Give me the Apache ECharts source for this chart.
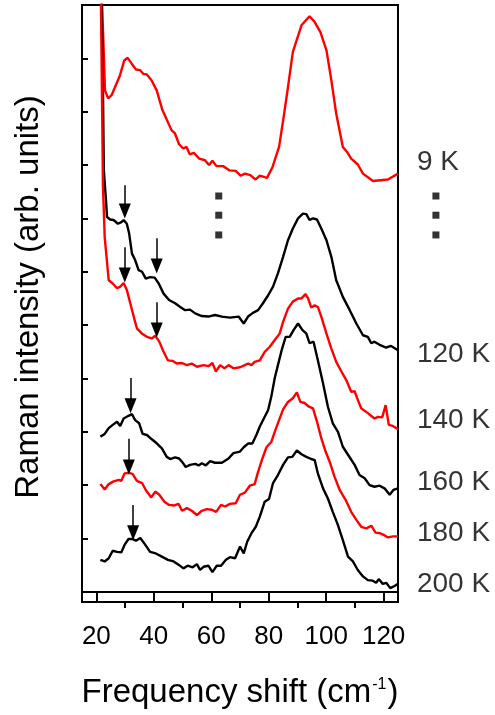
<!DOCTYPE html>
<html><head><meta charset="utf-8">
<script src="https://cdn.jsdelivr.net/npm/echarts@6/dist/echarts.min.js"></script>
<style>html,body{margin:0;padding:0;background:#fff}#c{width:495px;height:715px}</style>
</head><body><div id="c"></div>
<script>
const xMajorTicks = [20, 40, 60, 80, 100, 120];
const xMinorTicks = [30, 50, 70, 90, 110];
const yTicks = [0, 1, 2, 3, 4, 5, 6, 7, 8, 9, 10];
const tempNames = ['9 K', '120 K', '140 K', '160 K', '180 K', '200 K'];
const tempLabelY = [8.06, 4.46, 3.22, 2.06, 1.10, 0.15];
const seriesColors = ['#ff0000', '#000000', '#ff0000', '#000000', '#ff0000', '#000000'];

const s9K = [[21.4,12],[23.0,9.40],[24.1,9.25],[25.3,9.31],[28.2,9.68],[29.7,9.96],[30.9,10.01],[32.3,9.90],[33.8,9.79],[35.2,9.78],[36.3,9.71],[37.5,9.70],[39.2,9.59],[41.0,9.40],[43.0,9.03],[44.6,8.84],[46.2,8.65],[47.3,8.60],[48.8,8.39],[50.2,8.31],[51.4,8.34],[52.5,8.20],[53.9,8.23],[55.8,8.12],[57.8,8.09],[59.2,8.00],[60.4,8.08],[61.8,7.98],[64.1,7.98],[66.4,7.90],[68.5,7.89],[70.2,7.80],[71.7,7.84],[73.6,7.81],[75.4,7.73],[76.9,7.80],[79.4,7.76],[81.3,7.96],[83.6,8.34],[85.2,8.90],[86.7,9.46],[88.4,10.12],[91.4,10.62],[94.2,10.79],[96.0,10.68],[98.0,10.49],[100.1,10.15],[101.8,9.59],[103.5,8.96],[105.8,8.34],[107.2,8.25],[108.7,8.12],[111.0,8.01],[112.8,7.84],[116.3,7.70],[121.5,7.73],[125.0,7.84]];

const s120K = [[21.5,12],[22.3,9.4],[22.6,7.9],[23.4,7.3],[23.7,7.03],[24.8,6.98],[26.0,6.97],[27.5,6.90],[28.7,6.93],[29.5,6.97],[30.6,6.90],[31.4,6.72],[32.4,6.34],[33.5,6.22],[34.7,6.03],[35.9,6.00],[37.2,5.87],[38.7,5.90],[40.3,5.89],[41.7,5.78],[43.4,5.59],[45.3,5.47],[47.4,5.41],[49.2,5.34],[50.9,5.28],[52.6,5.29],[54.4,5.22],[56.7,5.17],[59.0,5.16],[61.3,5.19],[63.7,5.16],[66.5,5.14],[69.5,5.16],[71.3,5.03],[72.8,5.16],[74.5,5.23],[76.3,5.28],[78.0,5.41],[79.8,5.56],[81.5,5.72],[83.2,5.97],[85.0,6.28],[86.7,6.59],[88.4,6.81],[90.2,7.00],[91.9,7.09],[93.1,7.08],[94.2,6.97],[95.4,7.00],[96.8,6.98],[98.3,6.81],[100.1,6.59],[101.8,6.28],[103.5,5.84],[105.8,5.53],[108.2,5.28],[110.5,5.03],[112.8,4.81],[114.5,4.78],[115.7,4.66],[116.8,4.69],[118.6,4.63],[120.9,4.58],[122.6,4.61],[125.0,4.53]];

const s140K = [[21.4,12],[22.3,7.6],[22.9,6.65],[24.3,5.84],[25.7,5.78],[27.2,5.69],[28.3,5.72],[29.5,5.79],[30.6,5.66],[31.8,5.41],[33.0,5.16],[34.1,4.94],[35.9,4.84],[37.6,4.78],[39.3,4.75],[40.5,4.80],[41.9,4.69],[43.4,4.50],[44.9,4.34],[46.5,4.33],[48.0,4.28],[49.8,4.29],[51.5,4.25],[53.2,4.28],[55.0,4.22],[57.3,4.25],[59.0,4.23],[60.4,4.29],[61.6,4.13],[63.1,4.25],[64.6,4.19],[66.0,4.25],[67.7,4.19],[70.0,4.21],[71.7,4.25],[72.8,4.28],[74.0,4.25],[75.1,4.31],[76.9,4.34],[78.6,4.50],[80.3,4.59],[82.1,4.72],[83.8,4.84],[85.0,5.06],[86.7,5.31],[88.4,5.44],[90.2,5.50],[91.4,5.50],[92.8,5.58],[93.7,5.50],[94.8,5.33],[96.0,5.37],[97.1,5.34],[98.3,5.16],[100.1,4.84],[101.8,4.56],[103.5,4.31],[105.3,4.13],[107.0,3.97],[108.7,3.75],[109.9,3.76],[111.0,3.60],[112.2,3.44],[114.5,3.35],[116.8,3.25],[118.0,3.28],[119.5,3.27],[120.7,3.50],[121.8,3.13],[123.2,3.11],[125.0,3.05]];

const s160K = [[21.4,2.91],[22.9,2.96],[24.3,3.07],[25.7,3.13],[27.2,3.19],[28.3,3.11],[29.5,3.25],[31.2,3.30],[32.4,3.33],[33.5,3.22],[34.9,3.16],[36.1,2.96],[37.6,2.94],[39.3,2.86],[41.1,2.78],[42.8,2.69],[44.5,2.53],[45.7,2.49],[47.4,2.52],[48.8,2.50],[49.8,2.44],[51.1,2.34],[52.6,2.38],[54.4,2.40],[55.6,2.37],[56.7,2.41],[58.1,2.37],[59.6,2.45],[61.3,2.42],[63.7,2.42],[66.0,2.50],[67.7,2.60],[70.0,2.63],[71.3,2.71],[72.8,2.78],[74.3,2.78],[75.7,2.94],[76.9,3.10],[78.3,3.25],[79.8,3.41],[80.9,3.66],[82.1,4.01],[83.2,4.25],[84.5,4.53],[85.9,4.78],[87.3,4.78],[88.7,4.91],[90.2,5.03],[91.7,4.91],[93.1,4.84],[94.2,4.66],[95.6,4.69],[97.1,4.34],[98.9,3.91],[100.6,3.47],[102.3,3.16],[104.1,3.00],[105.8,2.72],[107.6,2.57],[109.9,2.38],[111.6,2.19],[113.4,2.13],[115.1,2.00],[116.8,1.97],[118.6,1.99],[120.3,1.94],[122.1,1.82],[123.4,1.91],[125.0,1.94]];

const s180K = [[21.4,2.02],[22.9,1.92],[24.3,2.02],[26.0,2.07],[27.8,2.10],[28.7,2.08],[29.8,2.22],[31.2,2.23],[32.6,2.21],[34.1,2.08],[35.9,2.04],[37.2,1.91],[39.1,1.77],[40.5,1.88],[41.9,1.82],[43.7,1.69],[45.3,1.63],[47.2,1.62],[48.6,1.65],[49.8,1.52],[51.5,1.57],[53.2,1.52],[55.0,1.44],[56.7,1.52],[58.4,1.55],[60.2,1.54],[61.7,1.50],[63.4,1.63],[64.8,1.60],[66.5,1.65],[68.5,1.66],[70.0,1.82],[71.7,1.86],[73.4,1.99],[75.1,2.02],[76.3,2.25],[77.8,2.50],[79.2,2.71],[80.9,2.81],[82.1,3.00],[83.6,3.22],[85.0,3.42],[86.7,3.56],[88.4,3.63],[89.8,3.74],[91.0,3.56],[92.5,3.54],[94.0,3.47],[95.4,3.44],[96.8,3.19],[98.3,2.88],[99.8,2.63],[101.2,2.44],[102.9,2.16],[104.7,1.91],[106.8,1.72],[108.7,1.50],[110.5,1.35],[112.2,1.22],[114.0,1.19],[115.7,1.24],[117.2,1.11],[118.6,1.10],[120.0,1.07],[121.5,1.02],[123.2,1.04],[125.0,1.04]];

const s200K = [[21.4,0.60],[22.9,0.57],[24.3,0.63],[25.7,0.77],[27.2,0.75],[28.7,0.74],[29.8,0.88],[31.2,0.99],[32.6,0.99],[33.8,0.96],[35.3,1.01],[36.8,0.90],[38.7,0.75],[40.7,0.72],[42.8,0.66],[44.9,0.60],[46.9,0.57],[48.6,0.51],[50.3,0.44],[51.8,0.49],[53.5,0.46],[55.0,0.52],[56.1,0.41],[57.3,0.47],[59.0,0.49],[60.4,0.37],[61.9,0.49],[63.4,0.49],[65.1,0.60],[66.5,0.65],[68.3,0.63],[70.0,0.85],[71.3,0.72],[72.5,0.94],[74.0,1.10],[75.5,1.22],[76.9,1.41],[78.6,1.69],[80.1,1.74],[81.5,2.04],[83.2,2.19],[85.0,2.38],[86.7,2.52],[88.2,2.53],[89.8,2.65],[91.4,2.58],[93.1,2.53],[94.8,2.49],[96.0,2.47],[97.1,2.22],[98.9,1.94],[100.6,1.75],[102.3,1.50],[104.1,1.25],[105.8,0.97],[107.6,0.66],[109.3,0.57],[111.0,0.41],[112.8,0.29],[114.5,0.22],[116.2,0.21],[117.4,0.17],[118.3,0.24],[119.7,0.15],[120.9,0.17],[122.3,0.07],[123.8,0.11],[125.0,0.15]];

const spectra = [s9K, s120K, s140K, s160K, s180K, s200K];

// arrows: [x, top, tip]
const arrows = [[29.9,7.62,7.14],[41.0,6.63,6.11],[29.9,6.46,5.94],[41.0,5.43,4.91],[31.9,4.01,3.49],[31.3,2.87,2.34],[32.8,1.63,1.11]];
// ellipsis dots
const dotX = [62.6, 138.2];
const dotY = [7.42, 7.06, 6.69];
const tempLabelX = 131.4;

const FONT = '"Liberation Sans", Arial, sans-serif';
const chart = echarts.init(document.getElementById('c'), null, {renderer: 'canvas'});

const series = spectra.map((d, i) => ({
  type: 'line', name: tempNames[i], data: d, showSymbol: false, symbol: 'none',
  lineStyle: {color: seriesColors[i], width: 2.4}, itemStyle: {color: seriesColors[i]},
  clip: true, z: 3
}));
series.push({
  type: 'line', data: [], showSymbol: false,
  markLine: {
    silent: true, animation: false, symbol: ['none', 'triangle'], symbolSize: [12, 15],
    label: {show: false},
    lineStyle: {color: '#000', width: 1.5, type: 'solid'},
    emphasis: {disabled: true},
    data: arrows.map(a => [{coord: [a[0], a[1]]}, {coord: [a[0], a[2]]}])
  }
});
const dots = [];
dotX.forEach(x => dotY.forEach(y => dots.push([x, y])));
series.push({
  type: 'scatter', data: dots, symbol: 'rect', symbolSize: 7, clip: false,
  itemStyle: {color: '#000'}, silent: true
});
series.push({
  type: 'scatter', clip: false, symbolSize: 1, silent: true,
  itemStyle: {color: 'rgba(0,0,0,0)'},
  data: tempNames.map((n, i) => ({name: n, value: [tempLabelX, tempLabelY[i]]})),
  label: {show: true, position: 'right', distance: 0, formatter: '{b}', color: '#000', fontSize: 28, fontFamily: FONT}
});

chart.setOption({
  animation: false,
  backgroundColor: '#fff',
  grid: {left: 82, right: 97, top: 5, bottom: 113, show: true, borderColor: '#000', borderWidth: 2, backgroundColor: 'transparent'},
  xAxis: [{
    type: 'value', min: 15, max: 125, position: 'bottom',
    axisLine: {show: true, lineStyle: {color: '#000', width: 2}},
    axisTick: {show: true, inside: false, length: 11, lineStyle: {color: '#000', width: 2}, customValues: xMajorTicks},
    axisLabel: {show: true, customValues: xMajorTicks, color: '#000', fontSize: 26, fontFamily: FONT, margin: 22},
    splitLine: {show: false}
  }, {
    type: 'value', min: 15, max: 125, position: 'bottom',
    axisLine: {show: false},
    axisTick: {show: true, inside: false, length: 6, lineStyle: {color: '#000', width: 2}, customValues: xMinorTicks},
    axisLabel: {show: false},
    splitLine: {show: false}
  }],
  yAxis: {
    type: 'value', min: -0.19, max: 11,
    axisLine: {show: true, lineStyle: {color: '#000', width: 2}},
    axisTick: {show: true, inside: true, length: 6, lineStyle: {color: '#000', width: 2}, customValues: yTicks},
    axisLabel: {show: false},
    splitLine: {show: false}
  },
  graphic: [{
    type: 'text', x: 29, y: 297, rotation: Math.PI / 2,
    style: {text: 'Raman intensity (arb. units)', fontSize: 33, fontFamily: FONT, fill: '#000', textAlign: 'center', textVerticalAlign: 'middle', align: 'center', verticalAlign: 'middle'}
  }, {
    type: 'text', x: 240, y: 693,
    style: {
      text: '{a|Frequency shift (cm}{s|-1}{a|)}',
      fill: '#000', textAlign: 'center', textVerticalAlign: 'middle', align: 'center', verticalAlign: 'middle',
      rich: {
        a: {fontSize: 33, fontFamily: FONT, fill: '#000', color: '#000'},
        s: {fontSize: 16, fontFamily: FONT, fill: '#000', color: '#000', padding: [0, 1, 16, 1]}
      }
    }
  }],
  series: series
});
</script></body></html>
